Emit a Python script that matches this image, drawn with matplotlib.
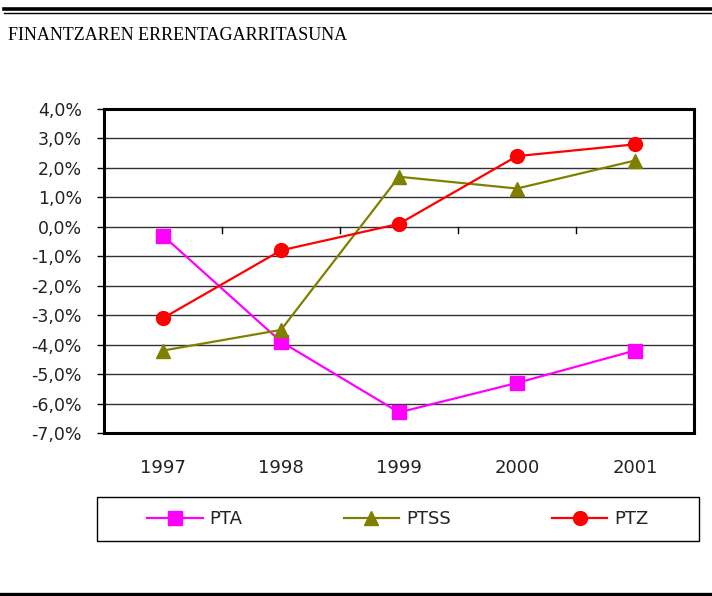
import matplotlib
matplotlib.use("Agg")
import matplotlib.pyplot as plt
from matplotlib.lines import Line2D
from matplotlib.patches import Rectangle

years = ["1997", "1998", "1999", "2000", "2001"]
pta = [-0.3, -3.9, -6.3, -5.3, -4.2]
ptss = [-4.2, -3.5, 1.7, 1.3, 2.25]
ptz = [-3.1, -0.8, 0.1, 2.4, 2.8]
yticks = [4, 3, 2, 1, 0, -1, -2, -3, -4, -5, -6, -7]
ytick_labels = ["4,0%", "3,0%", "2,0%", "1,0%", "0,0%", "-1,0%", "-2,0%",
                "-3,0%", "-4,0%", "-5,0%", "-6,0%", "-7,0%"]
title = "FINANTZAREN ERRENTAGARRITASUNA"

W, H = 712, 596
fig = plt.figure(figsize=(W / 100, H / 100), dpi=100)

# decorative rules
fig.add_artist(Line2D([4 / W, 1], [1 - 9.3 / H, 1 - 9.3 / H], color="black", lw=2.6))
fig.add_artist(Line2D([4 / W, 1], [1 - 13 / H, 1 - 13 / H], color="black", lw=1.0))
fig.add_artist(Line2D([0, 1], [1 - 594 / H, 1 - 594 / H], color="black", lw=2.4))

fig.text(8 / W, 1 - 36 / H, title, fontsize=13, family="Liberation Serif",
         ha="left", va="center", color="black")

ax = fig.add_axes([104 / W, 1 - 433 / H, 590 / W, 324 / H])
x = list(range(len(years)))

l1, = ax.plot(x, pta, color="#FF00FF", lw=1.6, marker="s", ms=10,
              markeredgecolor="#FF00FF", label="PTA", zorder=3)
l2, = ax.plot(x, ptss, color="#808000", lw=1.6, marker="^", ms=10,
              markeredgecolor="#808000", label="PTSS", zorder=3)
l3, = ax.plot(x, ptz, color="#FF0000", lw=1.6, marker="o", ms=10,
              markeredgecolor="#FF0000", label="PTZ", zorder=3)

ax.set_xlim(-0.5, len(years) - 0.5)
ax.set_ylim(min(yticks), max(yticks))
ax.set_yticks(yticks)
ax.set_yticklabels(ytick_labels, fontsize=12.5, color="#222222")
ax.tick_params(axis="y", direction="out", length=5, width=1, pad=11)
for yv in yticks[1:-1]:
    ax.axhline(yv, color="#333333", lw=1.0, zorder=1)

ax.set_xticks(x)
ax.set_xticklabels(years, fontsize=13, color="#222222")
ax.tick_params(axis="x", length=0, pad=19)
# category separator ticks on the zero line
for xv in [i + 0.5 for i in range(len(years) - 1)]:
    ax.plot([xv, xv], [0, -0.2], color="black", lw=1, zorder=2)

for s in ax.spines.values():
    s.set_linewidth(2.2)
    s.set_color("black")

# legend frame
fig.add_artist(Rectangle((97 / W, 1 - 541 / H), 602 / W, 44 / H,
                         transform=fig.transFigure, fill=False,
                         edgecolor="black", lw=1.0))
leg = fig.legend(handles=[l1, l2, l3], loc="center",
                 bbox_to_anchor=(398 / W, 1 - 519 / H),
                 ncol=3, fontsize=13, frameon=False,
                 handlelength=3.05, handletextpad=0.4, columnspacing=5.6)
for t in leg.get_texts():
    t.set_color("#222222")

fig.savefig("out.png", dpi=100)
